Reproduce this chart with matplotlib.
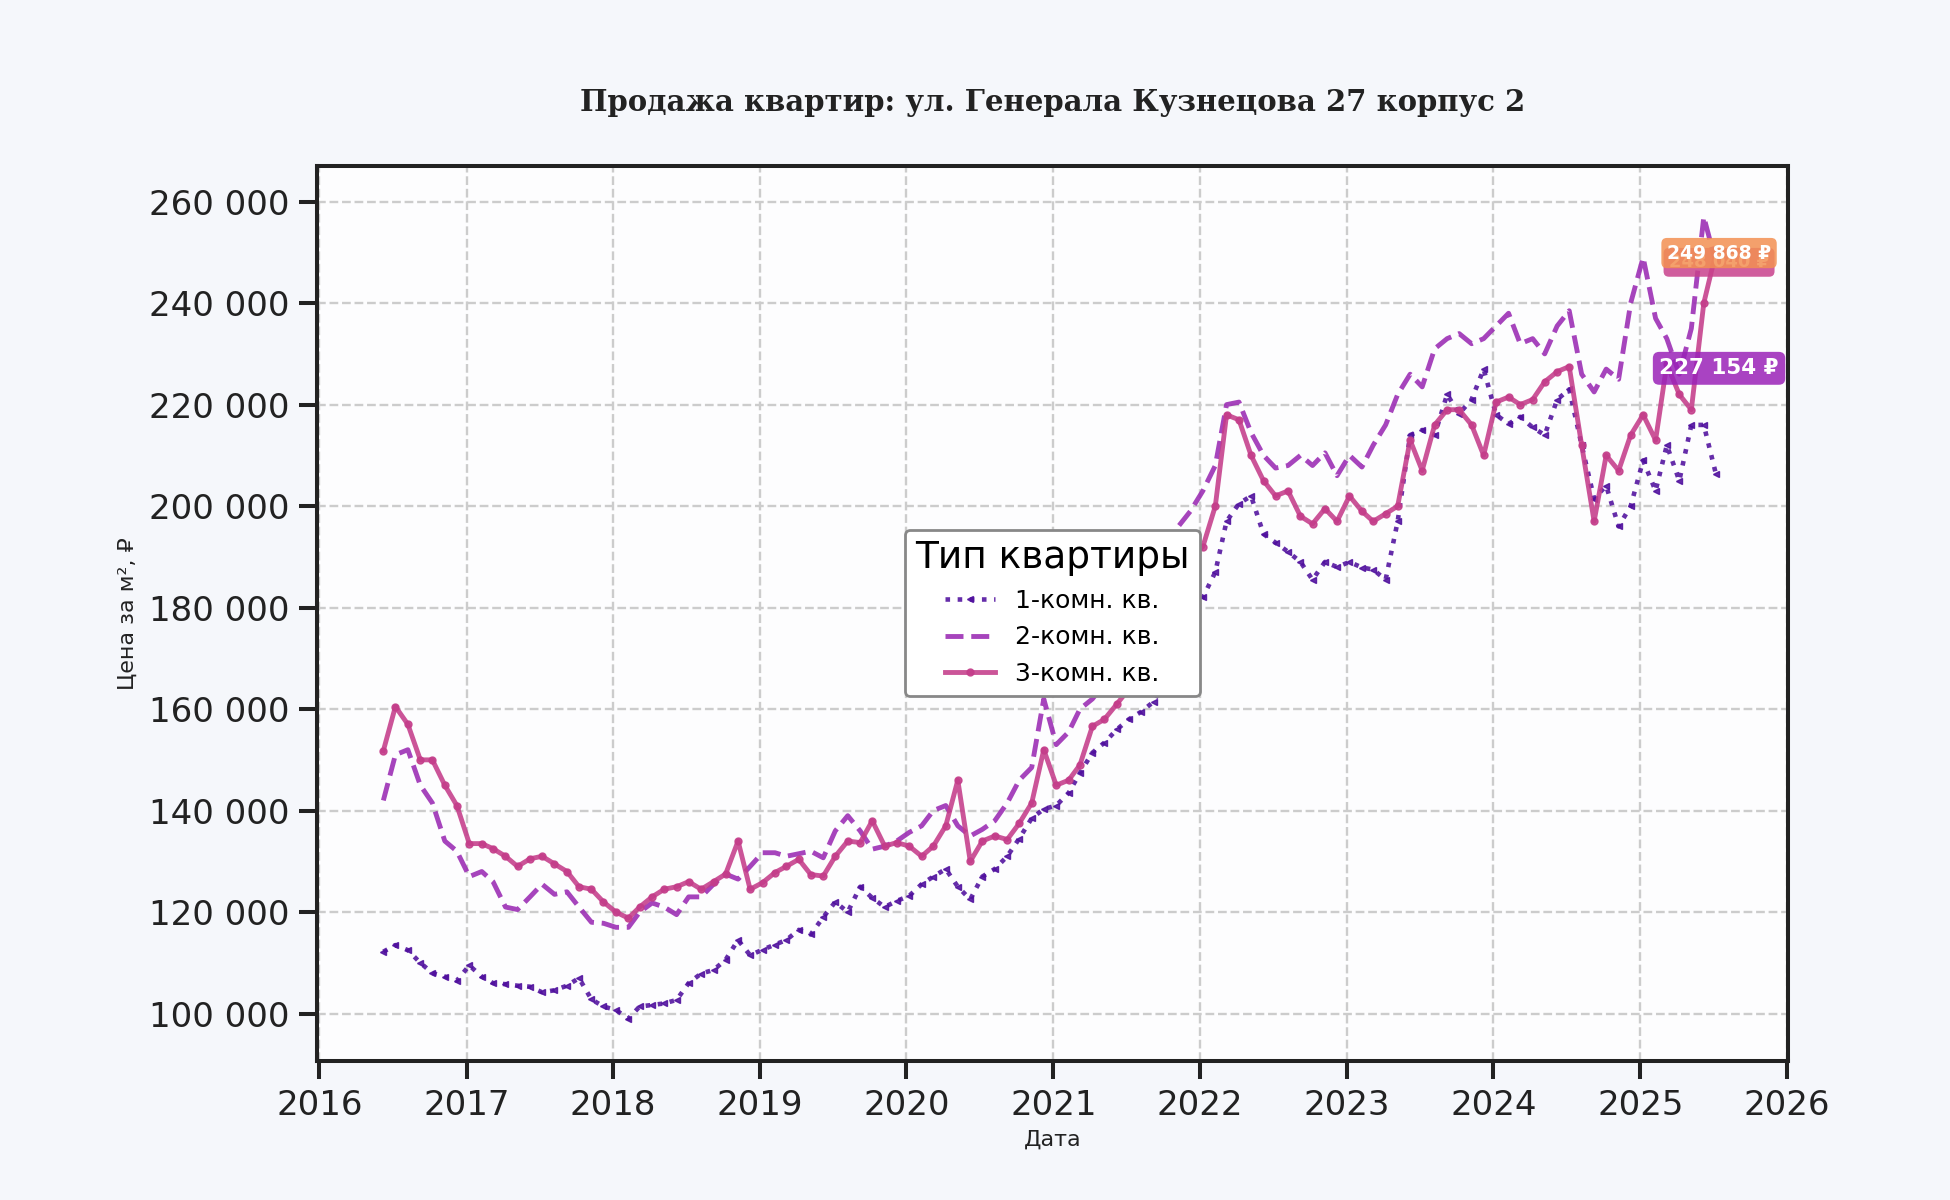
import matplotlib
matplotlib.use('Agg')
import matplotlib.pyplot as plt
import matplotlib.dates as mdates
from matplotlib.ticker import FuncFormatter
import pandas as pd

# месяцы наблюдений (июнь 2016 - июль 2025)
months = pd.date_range('2016-06-01', '2025-07-01', freq='MS') + pd.Timedelta(days=7)

# цена за м2, тыс. руб.
price_1k = [
    112.2, 113.5, 112.5, 110.0, 108.0, 107.3, 106.5,
    109.5, 107.3, 106.0, 105.8, 105.5, 105.3, 104.2, 104.6, 105.5, 107.0, 102.8, 101.4,
    100.7, 99.0, 101.4, 101.7, 102.0, 102.7, 106.0, 107.9, 108.6, 110.6, 114.5, 111.5,
    112.6, 113.6, 114.5, 116.5, 115.6, 119.0, 122.0, 120.0, 125.0, 122.8, 121.0, 122.2,
    123.2, 125.5, 127.0, 128.5, 125.0, 122.5, 127.0, 128.5, 131.0, 134.5, 138.5, 140.3,
    141.0, 143.5, 147.4, 151.4, 153.4, 156.0, 158.0, 159.5, 161.5, 166.0, 172.0, 177.0,
    182.0, 187.0, 197.0, 200.5, 202.0, 194.5, 192.8, 191.0, 189.0, 185.5, 189.0, 188.0,
    189.0, 187.9, 187.5, 185.5, 197.0, 214.0, 215.0, 214.0, 222.0, 218.2, 221.0, 227.0,
    218.0, 216.2, 217.6, 215.5, 214.0, 221.0, 223.0, 212.0, 201.5, 204.0, 196.0, 200.0,
    209.0, 203.0, 212.0, 205.0, 216.0, 216.0, 206.4,
]
price_2k = [
    142.0, 151.0, 152.0, 145.0, 141.5, 134.0, 132.0,
    127.0, 128.0, 126.0, 121.0, 120.5, 123.0, 125.5, 123.5, 124.0, 121.0, 118.0, 117.8,
    117.0, 117.0, 120.0, 121.8, 121.0, 119.5, 123.0, 123.0, 125.5, 127.5, 126.5, 129.0,
    131.7, 131.7, 131.0, 131.5, 132.0, 130.7, 136.0, 139.0, 136.0, 132.4, 133.0, 134.0,
    135.7, 137.0, 140.0, 141.0, 137.0, 135.0, 136.3, 138.0, 141.5, 146.0, 148.5, 162.0,
    153.0, 155.5, 160.0, 162.0, 165.0, 170.0, 175.0, 180.0, 188.0, 193.0, 196.0, 199.0,
    203.0, 208.0, 220.0, 220.5, 214.5, 210.0, 207.5, 208.0, 210.0, 208.0, 210.5, 206.0,
    210.0, 207.7, 212.0, 216.0, 222.0, 226.0, 223.5, 231.0, 233.0, 234.0, 232.0, 233.0,
    235.5, 238.0, 232.0, 233.0, 230.0, 235.5, 238.5, 226.0, 222.5, 227.0, 225.0, 240.0,
    249.0, 237.0, 233.0, 226.0, 235.0, 257.0, 248.0,
]
price_3k = [
    151.8, 160.5, 157.0, 150.0, 150.0, 145.0, 141.0,
    133.5, 133.5, 132.5, 131.0, 129.0, 130.5, 131.0, 129.5, 128.0, 125.0, 124.5, 122.0,
    120.0, 118.8, 121.0, 123.0, 124.5, 125.0, 126.0, 124.5, 126.0, 127.5, 134.0, 124.5,
    125.8, 127.8, 129.0, 130.4, 127.4, 127.1, 131.0, 134.0, 133.7, 138.0, 133.0, 133.7,
    133.0, 131.0, 133.0, 137.0, 146.0, 130.0, 134.0, 135.0, 134.3, 137.5, 141.5, 152.0,
    145.0, 146.0, 149.0, 156.6, 158.0, 161.0, 164.0, 168.0, 174.0, 180.0, 185.0, 190.0,
    192.0, 200.0, 218.0, 217.0, 210.0, 205.0, 202.0, 203.0, 198.0, 196.5, 199.5, 197.0,
    202.0, 199.0, 197.0, 198.5, 200.0, 213.0, 207.0, 216.0, 219.0, 219.0, 216.0, 210.0,
    220.5, 221.5, 220.0, 221.0, 224.5, 226.5, 227.5, 212.0, 197.0, 210.0, 207.0, 214.0,
    218.0, 213.0, 228.0, 222.0, 219.0, 240.0, 249.9,
]

series_names = ['1-комн. кв.', '2-комн. кв.', '3-комн. кв.']
series_prices = [price_1k, price_2k, price_3k]

# подписи последних значений
end_values = [248040, 249868, 227154]
end_colors = ['#c8418c', '#f39052', '#9a22b8']
end_sizes = [13, 13.5, 15.5]

styles = [
    dict(color='#50109e', linestyle=':', marker='<', markersize=5, linewidth=3.3),
    dict(color='#9a2ab3', linestyle='--', marker=None, linewidth=3.5),
    dict(color='#c43d8a', linestyle='-', marker='o', markersize=5, linewidth=3.5),
]

fig = plt.figure(figsize=(19.5, 12), dpi=100, facecolor='#f5f7fb')
ax = fig.add_axes([0.1626, 0.116, 0.7544, 0.746])
ax.set_facecolor('#fdfdfe')

for name, vals, st in zip(series_names, series_prices, styles):
    ax.plot(months, [v * 1000 for v in vals], label=name, alpha=0.88, zorder=3, **st)

for val, col, fs in zip(end_values, end_colors, end_sizes):
    ax.text(months[-1] + pd.Timedelta(days=8), val, f'{val:,.0f} ₽'.replace(',', ' '),
            ha='center', va='center', color='white', fontsize=fs, fontweight='bold',
            zorder=5,
            bbox=dict(boxstyle='round,pad=0.3', facecolor=col, edgecolor='none', alpha=0.85))

ax.set_xlim(pd.Timestamp('2015-12-26'), pd.Timestamp('2026-01-04'))
ax.set_ylim(90700, 267100)
ax.xaxis.set_major_locator(mdates.YearLocator())
ax.xaxis.set_major_formatter(mdates.DateFormatter('%Y'))
ax.yaxis.set_major_formatter(FuncFormatter(lambda v, p: f'{v:,.0f}'.replace(',', ' ')))

ax.grid(True, linestyle='--', color='#cccccc', linewidth=1.7, zorder=0)
for s in ax.spines.values():
    s.set_linewidth(2.9)
    s.set_color('#222222')
ax.tick_params(axis='both', labelsize=24.5, length=13, width=2.9, pad=7,
               color='#222222', labelcolor='#222222', direction='out')

ax.set_xlabel('Дата', fontsize=16, color='#222222', labelpad=6)
ax.set_ylabel('Цена за м², ₽', fontsize=16, color='#222222', labelpad=8)
ax.set_title('Продажа квартир: ул. Генерала Кузнецова 27 корпус 2',
             family='DejaVu Serif', fontweight='bold', fontsize=21, color='#222222', pad=39)

leg = ax.legend(title='Тип квартиры', loc='center', fontsize=18, title_fontsize=27,
                frameon=True, fancybox=True, framealpha=1.0, edgecolor='#888888',
                handlelength=2.0)
leg.get_frame().set_linewidth(2)
leg.set_zorder(10)

fig.savefig('out.png', dpi=100, facecolor=fig.get_facecolor())
